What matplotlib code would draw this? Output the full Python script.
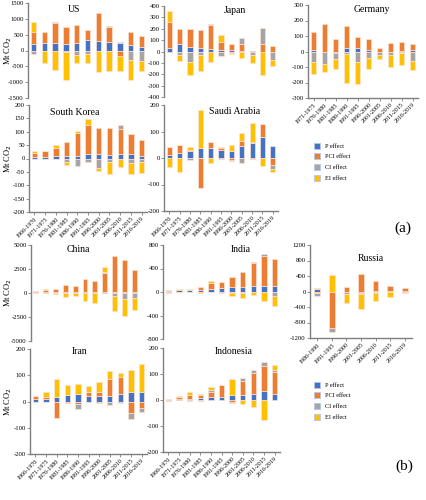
import numpy as np
import matplotlib.pyplot as plt
from matplotlib.patches import Patch

plt.rcParams['font.family'] = ['Liberation Serif', 'DejaVu Serif']
plt.rcParams['axes.unicode_minus'] = False

periods = ["1966-1970", "1971-1975", "1976-1980", "1981-1985", "1986-1990", "1991-1995",
           "1996-2000", "2001-2005", "2006-2010", "2011-2015", "2016-2019"]
effects = ["P effect", "PCI effect", "CI effect", "EI effect"]
colors = ["#4472C4", "#ED7D31", "#A5A5A5", "#FFC000"]

# Mt CO2
us_P = [200, 230, 250, 210, 230, 330, 310, 260, 250, 180, 120]
us_PCI = [400, 360, 620, 520, 560, 310, 880, 470, -180, 390, 340]
us_CI = [-100, -20, 40, -60, -130, -120, -20, 50, 20, -300, -320]
us_EI = [300, -390, -600, -870, -270, -260, -670, -660, -470, -630, -320]

jp_P = [35, 70, 40, 30, 20, 15, 10, 5, 3, -8, -8]
jp_PCI = [225, 125, 160, 155, 215, 65, 55, 65, -5, 70, 45]
jp_CI = [0, -35, -90, -35, 10, -40, -10, 50, -25, 140, -67]
jp_EI = [100, -50, -115, -140, -90, 65, -15, -60, -70, -197, -55]

de_P = [10, -5, -10, 25, 25, 8, -2, -5, 5, 12]
de_PCI = [115, 180, 78, 140, 67, 74, 22, 55, 58, 36]
de_CI = [-65, -75, -40, -15, -65, -40, -18, -20, -10, -60]
de_EI = [-80, -50, -60, -190, -145, -75, -30, -75, -80, -60]

kr_P = [5, 5, 8, 10, 10, 17, 17, 13, 15, 18, 10]
kr_PCI = [15, 23, 30, 50, 87, 108, 96, 102, 95, 74, 60]
kr_CI = [-3, -3, -3, -12, -27, -12, -37, -12, 15, -17, -12]
kr_EI = [7, 0, 14, -13, 6, 22, -8, -45, -33, -41, -43]

sa_P = [12, 18, 25, 38, 37, 32, 27, 45, 57, 78, 45]
sa_PCI = [28, 30, 5, -112, 23, 6, -7, 20, -5, 52, -25]
sa_CI = [0, 0, -7, -3, 0, -3, -5, -17, 3, 0, -18]
sa_EI = [-33, -52, 10, 142, -20, 5, 21, 30, 72, -30, -10]

cn_P = [70, 100, 100, 100, 120, 120, 100, 100, 150, 150, 150]
cn_PCI = [130, 200, 300, 700, 630, 1380, 1150, 2000, 3700, 3250, 2250]
cn_CI = [-20, -30, -30, -50, -30, -50, -50, 100, -300, -600, -500]
cn_EI = [50, 100, -80, -400, -270, -800, -950, 550, -1600, -1800, -1300]

in_P = [25, 30, 30, 40, 50, 60, 80, 90, 100, 110, 100]
in_PCI = [15, 5, 5, 50, 100, 110, 170, 250, 390, 510, 470]
in_CI = [-10, -5, -3, -5, -5, -10, -20, -10, 20, 20, -60]
in_EI = [0, 20, 20, -5, 45, 0, -50, -90, -45, -150, -180]

ru_P = [60, -10, -10, -30, 5, 20, 5]
ru_PCI = [-50, -940, 120, 450, 265, 110, 95]
ru_CI = [-70, -100, -50, -40, -50, -10, -30]
ru_EI = [30, 430, -230, -390, -190, -120, -15]

ir_P = [8, 8, 18, 25, 28, 20, 20, 22, 28, 35, 35]
ir_PCI = [12, 10, -62, -5, -10, 15, 18, 63, 65, -45, -25]
ir_CI = [-3, -2, 0, 0, -17, -3, -5, -12, -5, -22, -15]
ir_EI = [0, 19, 67, 37, 37, 23, 35, 32, 15, 84, 107]

id_P = [2, 5, 5, 8, 10, 12, 18, 20, 25, 33, 25]
id_PCI = [3, 7, 15, 12, 20, 47, -8, 53, 80, 99, 84]
id_CI = [-2, 0, -2, -5, 8, 0, -4, 12, 10, 15, 6]
id_EI = [0, 3, 11, 3, 13, 0, 63, -15, -28, -78, 20]

W, H = 426, 500
fig = plt.figure(figsize=(W / 100, H / 100), dpi=100)
spine_c = "#7f7f7f"


def panel(l, t, r, b, title, series, labels, ylim, step, tx, ty,
          xlabels=True, ylabel=False, width=0.5):
    ax = fig.add_axes([l / W, 1 - b / H, (r - l) / W, (b - t) / H])
    x = np.arange(len(labels))
    pos = np.zeros(len(labels))
    neg = np.zeros(len(labels))
    for vals, c in zip(series, colors):
        v = np.array(vals, dtype=float)
        base = np.where(v >= 0, pos, neg)
        ax.bar(x, v, width, bottom=base, color=c, edgecolor="#fbe2d5", linewidth=0.5)
        pos += np.clip(v, 0, None)
        neg += np.clip(v, None, 0)
    ax.set_xlim(-0.5, len(labels) - 0.5)
    ax.set_ylim(ylim)
    ax.set_yticks(np.arange(ylim[0], ylim[1] + 1, step))
    ax.tick_params(axis="y", labelsize=4.8, length=2, width=0.6, color=spine_c, pad=1)
    for s in ["top", "right"]:
        ax.spines[s].set_visible(False)
    ax.spines["left"].set_color(spine_c)
    ax.spines["left"].set_linewidth(1.0)
    if xlabels:
        ax.spines["bottom"].set_color(spine_c)
        ax.spines["bottom"].set_linewidth(1.0)
        ax.set_xticks(x)
        ax.set_xticklabels(labels, rotation=45, ha="right", rotation_mode="anchor", fontsize=4.3)
        ax.tick_params(axis="x", length=2, width=0.6, color=spine_c, pad=1)
    else:
        ax.spines["bottom"].set_visible(False)
        ax.set_xticks([])
    ax.text(tx, ty, title, transform=ax.transAxes, ha="center", va="center", fontsize=7)
    if ylabel:
        ax.set_ylabel("Mt CO$_2$", fontsize=6)
        ax.yaxis.set_label_coords((14 - l) / (r - l), 0.5)
    return ax


panel(28, 3, 147, 98, "US", [us_P, us_PCI, us_CI, us_EI], periods, (-1500, 1500), 500,
      0.39, 0.93, xlabels=False, ylabel=True)
panel(164, 6, 278, 97, "Japan", [jp_P, jp_PCI, jp_CI, jp_EI], periods, (-400, 400), 100,
      0.62, 0.95, xlabels=False)
panel(308, 5, 418, 98, "Germany", [de_P, de_PCI, de_CI, de_EI], periods[1:], (-300, 300), 100,
      0.58, 0.95)
panel(29, 105, 147, 212, "South Korea", [kr_P, kr_PCI, kr_CI, kr_EI], periods, (-200, 200), 50,
      0.39, 0.93, ylabel=True)
panel(164, 105, 278, 211, "Saudi Arabia", [sa_P, sa_PCI, sa_CI, sa_EI], periods, (-200, 200), 100,
      0.62, 0.94)
panel(31, 245, 139, 341, "China", [cn_P, cn_PCI, cn_CI, cn_EI], periods, (-5000, 5000), 2500,
      0.44, 0.95, xlabels=False, ylabel=True)
panel(163, 245, 280, 339, "India", [in_P, in_PCI, in_CI, in_EI], periods, (-800, 800), 400,
      0.66, 0.95, xlabels=False)
panel(310, 245, 412, 338, "Russia", [ru_P, ru_PCI, ru_CI, ru_EI], periods[4:], (-1200, 1200), 400,
      0.6, 0.86, width=0.4)
panel(30, 349, 147, 454, "Iran", [ir_P, ir_PCI, ir_CI, ir_EI], periods, (-200, 200), 100,
      0.42, 0.98, ylabel=True)
panel(163, 348, 280, 452, "Indonesia", [id_P, id_PCI, id_CI, id_EI], periods, (-200, 200), 100,
      0.6, 0.97)

handles = [Patch(facecolor=c, edgecolor="#b4c7e7", linewidth=0.6) for c in colors]
for y_top in (140, 379):
    fig.legend(handles, effects, loc="upper left", bbox_to_anchor=(311 / W, 1 - y_top / H),
               frameon=False, fontsize=4.5, handlelength=1.1, handleheight=1.1,
               labelspacing=0.75, handletextpad=0.8, borderaxespad=0)

fig.text(403 / W, 1 - 228 / H, "(a)", fontsize=11, ha="center", va="center")
fig.text(404 / W, 1 - 466 / H, "(b)", fontsize=11, ha="center", va="center")

fig.savefig("out.png", dpi=100)
